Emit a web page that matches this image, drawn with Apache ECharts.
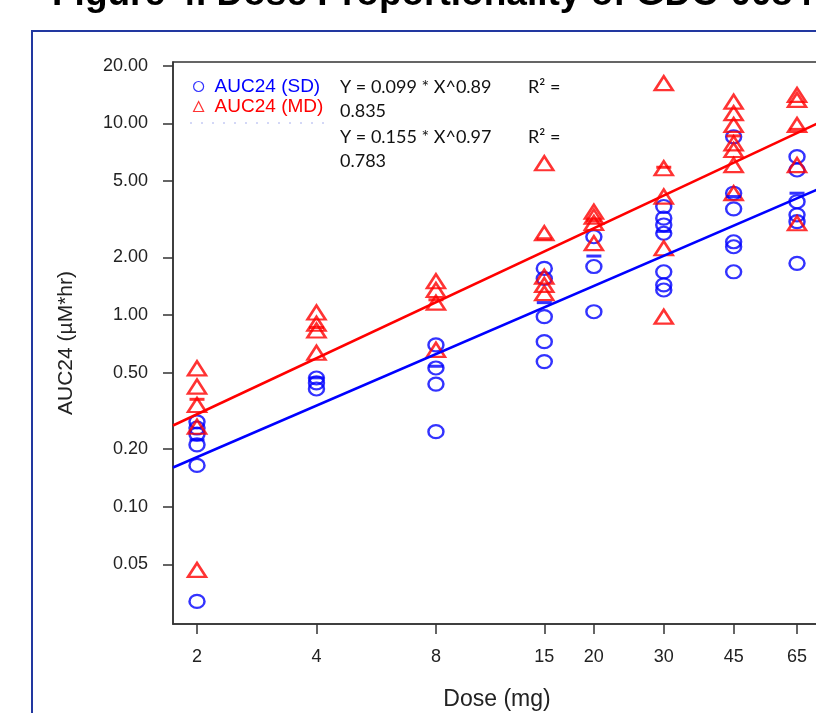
<!DOCTYPE html>
<html>
<head>
<meta charset="utf-8">
<script src="https://cdn.jsdelivr.net/npm/echarts@6/dist/echarts.min.js"></script>
<style>
  html, body { margin: 0; padding: 0; background: #fff; }
  #chart { width: 816px; height: 713px; }
</style>
</head>
<body>
<div id="chart"></div>
<script>
// dose levels (mg) and tick labels
const doses = [2, 4, 8, 15, 20, 30, 45, 65]
const yTicks = [0.05, 0.1, 0.2, 0.5, 1, 2, 5, 10, 20]

// AUC24 single dose (blue circles), one list per dose
const sdValues = [
  [0.277, 0.257, 0.239, 0.21, 0.164, 0.032],
  [0.469, 0.442, 0.411],
  [0.698, 0.529, 0.436, 0.246],
  [1.75, 1.55, 0.98, 0.726, 0.571],
  [2.56, 1.79, 1.04],
  [3.68, 3.2, 2.95, 2.67, 1.68, 1.435, 1.35],
  [8.5, 4.32, 3.58, 2.41, 2.27, 1.68],
  [6.7, 5.71, 3.9, 3.33, 3.07, 1.86],
]
// AUC24 multiple dose (red triangles)
const mdValues = [
  [0.527, 0.423, 0.339, 0.261, 0.0467],
  [1.03, 0.9, 0.83, 0.635],
  [1.5, 1.35, 1.16, 0.658],
  [6.19, 2.67, 1.585, 1.435, 1.3],
  [3.46, 3.26, 3.02, 2.37],
  [16.2, 5.83, 4.15, 2.23, 0.98],
  [12.98, 11.3, 9.81, 7.87, 7.26, 6.06, 4.32],
  [14.07, 13.25, 9.81, 6.06, 3.01],
]
// short horizontal bars per dose
const sdBars = [0.223, 0.47, 0.54, 1.16, 2.03, 2.73, 4.15, 4.32]
const mdBars = [0.363, 0.86, 1.2, 2.5, 3.1, 5.9, 8.6, 9.3]

// fitted power lines, end points at the plot edges
const fitX = [1.74, 74.7]
const sdFitY = [0.16, 4.6]
const mdFitY = [0.265, 10.2]

const BLUE = '#0000ff'
const RED = '#ff0000'
const AXIS = '#333333'
const FONT = '"Liberation Sans", Arial, sans-serif'
const EQ_FONT = '18px Lato, "Open Sans", sans-serif'

const toPoints = lists => {
  const out = []
  lists.forEach((vals, i) => vals.forEach(v => out.push([doses[i], v])))
  return out
}
const pair = (xs, ys) => xs.map((x, i) => [x, ys[i]])

const chart = echarts.init(document.getElementById('chart'), null, { renderer: 'canvas' })

const eqText = (x, y, text) => ({
  type: 'text',
  style: { x, y, text, font: EQ_FONT, fill: '#111', verticalAlign: 'middle' },
})

const option = {
  animation: false,
  backgroundColor: '#fff',
  grid: {
    left: 173,
    top: 62,
    width: 648,
    height: 562,
    outerBoundsMode: 'none',
    containLabel: false,
    show: true,
    borderColor: AXIS,
    borderWidth: 1.5,
  },
  legend: {
    left: 193,
    top: 77,
    orient: 'vertical',
    padding: 0,
    itemGap: 1,
    itemWidth: 10,
    itemHeight: 10,
    itemStyle: { borderWidth: 1.2 },
    textStyle: { fontFamily: FONT, fontSize: 19, padding: [0, 0, 0, 6] },
    data: [
      { name: 'AUC24 (SD)', textStyle: { color: BLUE } },
      { name: 'AUC24 (MD)', textStyle: { color: RED } },
    ],
  },
  xAxis: {
    type: 'log',
    logBase: 10,
    min: 1.74,
    max: 74.7,
    name: 'Dose (mg)',
    nameLocation: 'middle',
    nameGap: 64,
    nameTextStyle: { fontFamily: FONT, fontSize: 23, color: '#222' },
    axisLine: { show: true, lineStyle: { color: AXIS, width: 1.5 } },
    axisTick: { show: true, length: 10, customValues: doses, lineStyle: { color: AXIS, width: 1.5 } },
    axisLabel: {
      customValues: doses,
      margin: 24,
      fontFamily: FONT,
      fontSize: 18,
      color: '#222',
      formatter: v => String(v),
    },
    splitLine: { show: false },
    minorTick: { show: false },
  },
  yAxis: {
    type: 'log',
    logBase: 10,
    min: 0.0244,
    max: 20.9,
    name: 'AUC24 (µM*hr)',
    nameLocation: 'middle',
    nameGap: 96,
    nameRotate: 90,
    nameTextStyle: { fontFamily: FONT, fontSize: 21, color: '#222' },
    axisLine: { show: true, lineStyle: { color: AXIS, width: 1.5 } },
    axisTick: { show: true, length: 10, customValues: yTicks, lineStyle: { color: AXIS, width: 1.5 } },
    axisLabel: {
      customValues: yTicks,
      margin: 25,
      fontFamily: FONT,
      fontSize: 18,
      color: '#222',
      formatter: v => Number(v).toFixed(2),
    },
    splitLine: { show: false },
    minorTick: { show: false },
  },
  series: [
    {
      name: 'AUC24 (SD)',
      type: 'scatter',
      symbol: 'circle',
      symbolSize: [15, 13],
      itemStyle: { color: 'transparent', borderColor: BLUE, borderWidth: 2.3 },
      data: toPoints(sdValues),
      z: 3,
    },
    {
      name: 'AUC24 (MD)',
      type: 'scatter',
      symbol: 'triangle',
      symbolSize: [18, 14],
      itemStyle: { color: 'transparent', borderColor: RED, borderWidth: 2.5 },
      data: toPoints(mdValues),
      z: 3,
    },
    {
      name: 'SD bar',
      type: 'scatter',
      symbol: 'rect',
      symbolSize: [15, 3],
      itemStyle: { color: BLUE },
      data: pair(doses, sdBars),
      z: 4,
    },
    {
      name: 'MD bar',
      type: 'scatter',
      symbol: 'rect',
      symbolSize: [15, 3],
      itemStyle: { color: RED },
      data: pair(doses, mdBars),
      z: 4,
    },
    {
      name: 'SD fit',
      type: 'line',
      symbol: 'none',
      lineStyle: { color: BLUE, width: 2.5 },
      data: pair(fitX, sdFitY),
      z: 5,
    },
    {
      name: 'MD fit',
      type: 'line',
      symbol: 'none',
      lineStyle: { color: RED, width: 2.5 },
      data: pair(fitX, mdFitY),
      z: 5,
    },
  ],
  graphic: [
    // outer frame of the figure
    {
      type: 'rect',
      shape: { x: 32, y: 31, width: 820, height: 720 },
      style: { fill: 'none', stroke: '#2238a0', lineWidth: 2 },
      silent: true,
    },
    // title, mostly above the visible area
    {
      type: 'text',
      style: {
        x: 52,
        y: -5,
        text: 'Figure 4. Dose Proportionality of GDC-0084 in Patients',
        font: 'bold 37px "Liberation Sans", Arial, sans-serif',
        fill: '#000',
        verticalAlign: 'middle',
      },
    },
    // clipped third legend row
    {
      type: 'line',
      shape: { x1: 190, y1: 123, x2: 330, y2: 123 },
      style: { stroke: '#a8b0ee', lineWidth: 1, lineDash: [2, 9] },
      silent: true,
    },
    // regression equations
    eqText(340, 87, 'Y = 0.099 * X^0.89'),
    eqText(528, 87, 'R² ='),
    eqText(340, 111, '0.835'),
    eqText(340, 137, 'Y = 0.155 * X^0.97'),
    eqText(528, 137, 'R² ='),
    eqText(340, 161, '0.783'),
  ],
}

chart.setOption(option)
</script>
</body>
</html>
